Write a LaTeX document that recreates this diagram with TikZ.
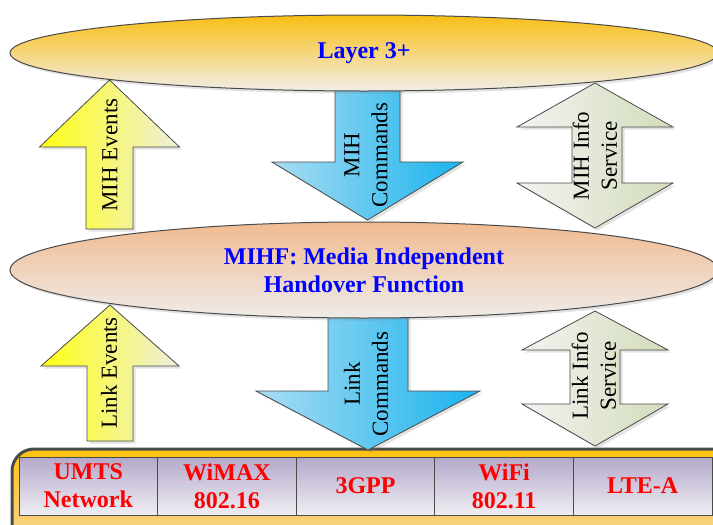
\documentclass[tikz,border=0pt]{standalone}
\usepackage{fontspec}
\setmainfont{Liberation Serif}
\usetikzlibrary{shapes.geometric, positioning, shadows}

\definecolor{edge}{HTML}{4A4A4A}
\definecolor{goldtop}{HTML}{F9BE14}
\definecolor{goldbot}{HTML}{F1EEE8}
\definecolor{salmtop}{HTML}{F0BA90}
\definecolor{salmbot}{HTML}{EFECE9}
\definecolor{yelleft}{HTML}{FFFF14}
\definecolor{yelright}{HTML}{EEEEDC}
\definecolor{blueleft}{HTML}{A8DDF2}
\definecolor{blueright}{HTML}{1AB3EE}
\definecolor{grayleft}{HTML}{F3F3F1}
\definecolor{grayright}{HTML}{D2DCBA}
\definecolor{celltop}{HTML}{B4A8CA}
\definecolor{cellbot}{HTML}{EFEEF3}
\definecolor{boxtop}{HTML}{FFC30F}
\definecolor{boxbot}{HTML}{F6D8AE}

\begin{document}
\begin{tikzpicture} [x=0.5pt, y=-0.5pt,
    softshadow/.style = {drop shadow={opacity=0.22, shadow xshift=1.3pt, shadow yshift=-1.3pt}},
    layer/.style = {ellipse, draw=edge, line width=0.5pt, softshadow, text=blue, align=center,
                    font=\fontsize{12}{14}\selectfont\bfseries, minimum width=354pt},
    blockarrow/.style = {draw=edge, line width=0.4pt, softshadow},
    events/.style = {blockarrow, left color=yelleft, right color=yelright},
    commands/.style = {blockarrow, left color=blueleft, right color=blueright},
    info/.style = {blockarrow, left color=grayleft, right color=grayright},
    lbl/.style = {rotate=90, align=center, font=\fontsize{11.5}{14}\selectfont},
    cell/.style = {rectangle, draw=edge, line width=0.5pt, outer sep=0pt, inner sep=0pt,
                   top color=celltop, bottom color=cellbot, text=red, align=center,
                   font=\fontsize{12}{14}\selectfont\bfseries,
                   minimum width=69.3pt, minimum height=29pt}]

    \useasboundingbox (0,0) rectangle (713,525);
    \clip (0,0) rectangle (713,525);

    % access networks
    \path [draw=edge, line width=1.5pt, rounded corners=11pt, top color=boxtop, bottom color=boxbot]
        (12,449) rectangle (740,560);
    \node (umts) [cell] at (88.3,486) {UMTS\\Network};
    \node (wimax) [cell, right = 0pt of umts] {WiMAX\\802.16};
    \node (gpp) [cell, right = 0pt of wimax] {3GPP};
    \node (wifi) [cell, right = 0pt of gpp] {WiFi\\802.11};
    \node (lte) [cell, right = 0pt of wifi] {LTE-A};

    % upper arrows
    \path [events] (86,229) -- (86,147) -- (39.5,147) -- (109.5,80) -- (179.5,147)
        -- (133,147) -- (133,229) -- cycle;
    \path [commands] (335,80) -- (400,80) -- (400,162) -- (463,162) -- (367.5,220)
        -- (272,162) -- (335,162) -- cycle;
    \path [info] (595,83) -- (673,127) -- (622,127) -- (622,183) -- (673,183) -- (595,228)
        -- (517,183) -- (572,183) -- (572,127) -- (517,127) -- cycle;

    % lower arrows
    \path [events] (87,441) -- (87,366) -- (41,366) -- (110,305) -- (179,366)
        -- (133,366) -- (133,441) -- cycle;
    \path [commands] (328,300) -- (408,300) -- (408,391) -- (480,391) -- (368,450)
        -- (256,391) -- (328,391) -- cycle;
    \path [info] (595,311) -- (668,350) -- (620,350) -- (620,404) -- (668,404) -- (595,446)
        -- (522,404) -- (570,404) -- (570,350) -- (522,350) -- cycle;

    % layers
    \node (l3) [layer, minimum height=38pt, top color=goldtop, bottom color=goldbot] at (364,53) {Layer 3+};
    \node (mihf) [layer, minimum height=48pt, top color=salmtop, bottom color=salmbot] at (364,270)
        {MIHF: Media Independent\\Handover Function};

    \node (mihev) [lbl] at (110,155) {MIH Events};
    \node (mihcmd) [lbl] at (366,155) {MIH\\Commands};
    \node (mihinfo) [lbl] at (595,156) {MIH Info\\Service};
    \node (linkev) [lbl] at (109,373) {Link Events};
    \node (linkcmd) [lbl] at (366,384) {Link\\Commands};
    \node (linkinfo) [lbl] at (594,376) {Link Info\\Service};

\end{tikzpicture}
\end{document}
